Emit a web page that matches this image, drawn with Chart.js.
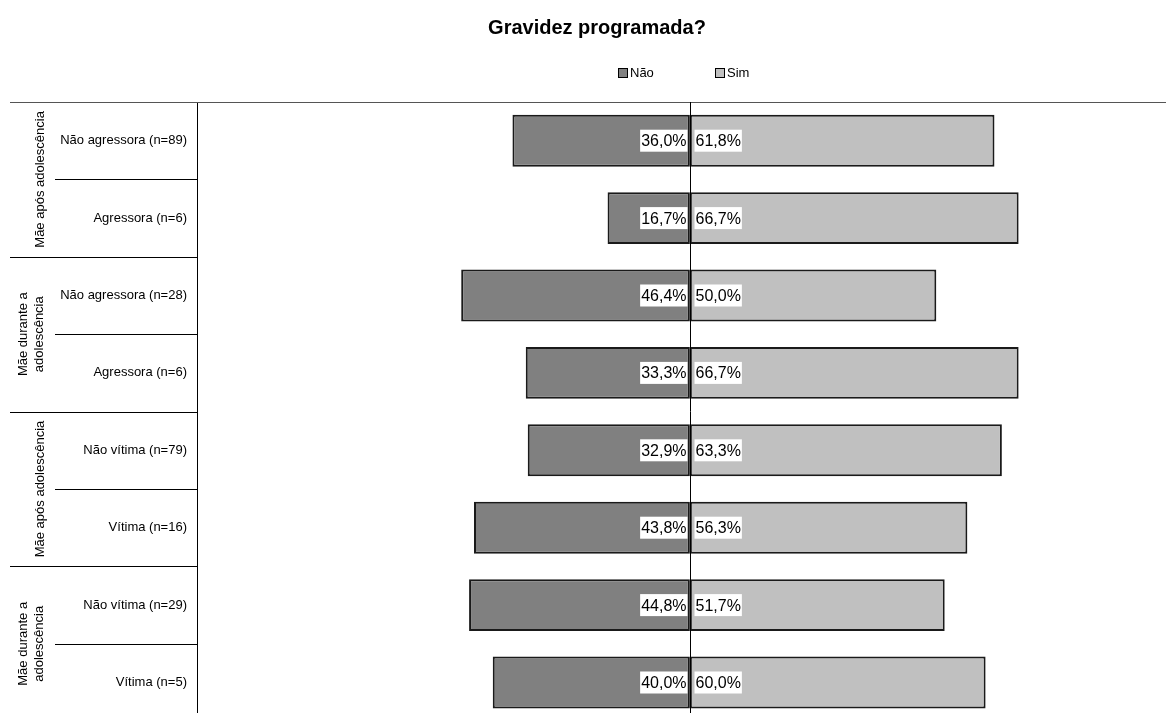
<!DOCTYPE html>
<html>
<head>
<meta charset="utf-8">
<script src="https://cdn.jsdelivr.net/npm/chart.js@4.4.1/dist/chart.umd.min.js"></script>
<style>
  html, body { margin: 0; padding: 0; background: #fff; overflow: hidden; }
  canvas { display: block; }
</style>
</head>
<body>
<canvas id="chart" width="1166" height="739"></canvas>
<script>
// chart data
const chartTitle = 'Gravidez programada?';
const categories = [
  'Não agressora (n=89)', 'Agressora (n=6)',
  'Não agressora (n=28)', 'Agressora (n=6)',
  'Não vítima (n=79)', 'Vítima (n=16)',
  'Não vítima (n=29)', 'Vítima (n=5)'
];
const groupLabels = [
  ['Mãe após adolescência'],
  ['Mãe durante a', 'adolescência'],
  ['Mãe após adolescência'],
  ['Mãe durante a', 'adolescência']
];
const groupSizes = [2, 2, 2, 2];
const naoValues = [36.0, 16.7, 46.4, 33.3, 32.9, 43.8, 44.8, 40.0];
const simValues = [61.8, 66.7, 50.0, 66.7, 63.3, 56.3, 51.7, 60.0];

const FONT = 'Arial, "Liberation Sans", sans-serif';

// title, legend, separators, group labels and value boxes
const decorPlugin = {
  id: 'decor',
  afterDraw(chart) {
    const ctx = chart.ctx;
    const area = chart.chartArea;
    const y = chart.scales.y;
    ctx.save();

    // title
    ctx.fillStyle = '#000';
    ctx.font = 'bold 20px ' + FONT;
    ctx.textAlign = 'center';
    ctx.textBaseline = 'middle';
    ctx.fillText(chartTitle, 597, 28);

    // legend
    ctx.font = '13px ' + FONT;
    ctx.textAlign = 'left';
    chart.data.datasets.forEach(function (ds, i) {
      const lx = 618 + i * 97;
      ctx.fillStyle = ds.backgroundColor;
      ctx.fillRect(lx, 68.5, 9, 9);
      ctx.strokeStyle = '#000';
      ctx.lineWidth = 1;
      ctx.strokeRect(lx + 0.5, 68.5, 9, 9);
      ctx.fillStyle = '#000';
      ctx.fillText(ds.label, lx + 12, 73.5);
    });

    // top border
    ctx.strokeStyle = '#555';
    ctx.lineWidth = 1;
    ctx.beginPath();
    ctx.moveTo(10, area.top + 0.5);
    ctx.lineTo(area.right, area.top + 0.5);
    ctx.stroke();

    // category separators
    ctx.strokeStyle = '#000';
    let idx = 0;
    const groupEnds = [];
    groupSizes.forEach(function (n) { idx += n; groupEnds.push(idx - 1); });
    for (let i = 0; i < categories.length - 1; i++) {
      const yy = Math.round((y.getPixelForValue(i) + y.getPixelForValue(i + 1)) / 2) + 0.5;
      const x0 = groupEnds.indexOf(i) >= 0 ? 10 : 55;
      ctx.beginPath();
      ctx.moveTo(x0, yy);
      ctx.lineTo(area.left, yy);
      ctx.stroke();
    }

    // group labels (rotated)
    ctx.fillStyle = '#000';
    ctx.font = '13px ' + FONT;
    ctx.textAlign = 'center';
    ctx.textBaseline = 'middle';
    let start = 0;
    groupLabels.forEach(function (lines, g) {
      const end = start + groupSizes[g] - 1;
      const top = (y.getPixelForValue(start) + y.getPixelForValue(start - 1)) / 2;
      const bottom = (y.getPixelForValue(end) + y.getPixelForValue(end + 1)) / 2;
      const cy = (top + bottom) / 2;
      const cx = lines.length === 1 ? 40 : 31;
      ctx.save();
      ctx.translate(cx, cy);
      ctx.rotate(-Math.PI / 2);
      lines.forEach(function (t, k) {
        ctx.fillText(t, 0, (k - (lines.length - 1) / 2) * 16);
      });
      ctx.restore();
      start = end + 1;
    });

    // zero line
    const zx = Math.round(chart.scales.x.getPixelForValue(0)) + 0.5;
    ctx.strokeStyle = '#000';
    ctx.beginPath();
    ctx.moveTo(zx, area.top);
    ctx.lineTo(zx, area.bottom);
    ctx.stroke();

    // value labels with white boxes
    ctx.font = '16px ' + FONT;
    ctx.textBaseline = 'middle';
    chart.data.datasets.forEach(function (ds, di) {
      const meta = chart.getDatasetMeta(di);
      meta.data.forEach(function (bar, i) {
        const v = Math.abs(ds.data[i]);
        const txt = v.toFixed(1).replace('.', ',') + '%';
        const w = ctx.measureText(txt).width;
        let bx;
        if (ds.data[i] < 0) {
          bx = zx - 4 - w - 1;
        } else {
          bx = zx + 4;
        }
        ctx.fillStyle = '#fff';
        ctx.fillRect(bx, bar.y - 11, w + 2, 22);
        ctx.fillStyle = '#000';
        ctx.textAlign = 'left';
        ctx.fillText(txt, bx + 1, bar.y + 1);
      });
    });

    ctx.restore();
  }
};

const ctx = document.getElementById('chart').getContext('2d');
new Chart(ctx, {
  type: 'bar',
  data: {
    labels: categories,
    datasets: [{
      label: 'Não',
      data: naoValues.map(function (v) { return -v; }),
      backgroundColor: '#808080',
      borderColor: '#1a1a1a',
      borderWidth: 2,
      borderSkipped: false
    }, {
      label: 'Sim',
      data: simValues,
      backgroundColor: '#c0c0c0',
      borderColor: '#1a1a1a',
      borderWidth: 2,
      borderSkipped: false
    }]
  },
  options: {
    indexAxis: 'y',
    responsive: false,
    animation: false,
    layout: { padding: { top: 102, left: 0, right: 0, bottom: 0 } },
    plugins: {
      legend: { display: false },
      title: { display: false },
      tooltip: { enabled: false }
    },
    scales: {
      x: {
        display: false,
        stacked: true,
        min: -100,
        max: 96.6
      },
      y: {
        stacked: true,
        grid: { display: false, drawTicks: false },
        border: { display: true, color: '#000', width: 1 },
        ticks: {
          color: '#000',
          font: { family: FONT, size: 13 },
          padding: 10
        },
        afterFit: function (scale) { scale.width = 197; }
      }
    },
    datasets: {
      bar: { barPercentage: 0.67, categoryPercentage: 1 }
    }
  },
  plugins: [decorPlugin]
});
</script>
</body>
</html>
